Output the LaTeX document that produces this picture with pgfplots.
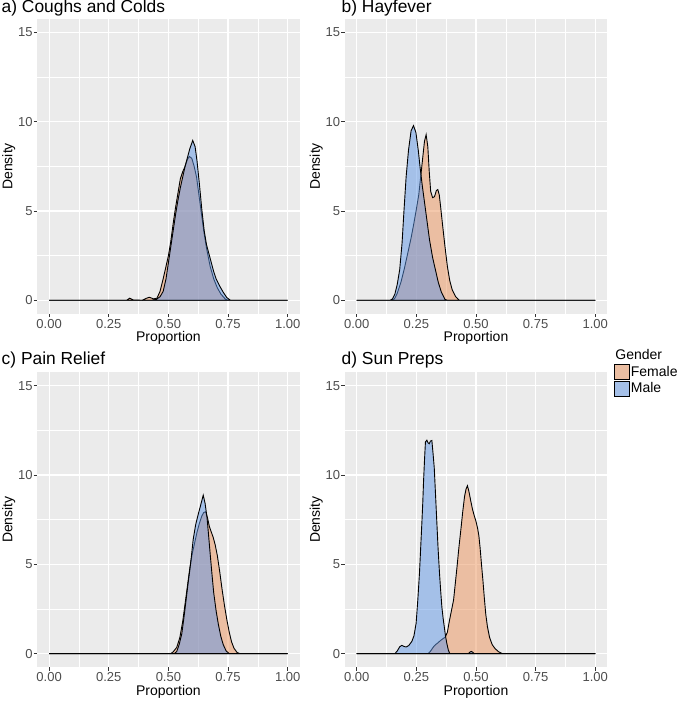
\documentclass[border=0pt]{standalone}
\usepackage{fontspec}
\setmainfont{Liberation Sans}
\usepackage{pgfplots}
\pgfplotsset{compat=1.18}
\definecolor{panelbg}{RGB}{235,235,235}
\definecolor{tickgrey}{RGB}{77,77,77}
\definecolor{tickmark}{RGB}{51,51,51}
\definecolor{femfill}{RGB}{235,146,90}
\definecolor{malefill}{RGB}{95,150,230}
\definecolor{femkey}{RGB}{235,190,162}
\definecolor{malekey}{RGB}{165,192,232}

\pgfplotsset{
  dens/.style={
    scale only axis, width=262.4pt, height=294.7pt,
    xmin=-0.05, xmax=1.05, ymin=-0.75, ymax=15.75,
    axis background/.style={fill=panelbg},
    axis line style={draw=none},
    xtick={0,0.25,0.5,0.75,1}, xticklabels={0.00,0.25,0.50,0.75,1.00},
    ytick={0,5,10,15}, yticklabels={0,5,10,15},
    minor xtick={0.125,0.375,0.625,0.875}, minor ytick={2.5,7.5,12.5},
    xmajorgrids, ymajorgrids, xminorgrids, yminorgrids,
    major grid style={white, line width=1.1pt},
    minor grid style={white, line width=0.55pt},
    tick align=outside, xtick pos=bottom, ytick pos=left,
    major tick length=3.5pt, minor tick length=0pt,
    tick style={tickmark, line width=0.8pt},
    tick label style={font=\fontsize{13}{15}\selectfont, text=tickgrey},
    xticklabel style={inner sep=1pt, yshift=-1pt},
    yticklabel style={inner sep=1pt},
    label style={font=\fontsize{14}{16}\selectfont},
    xlabel={Proportion},
    xlabel style={at={(axis description cs:0.5,0)}, anchor=center, yshift=-24.5pt},
    ylabel={Density},
    ylabel style={at={(axis description cs:0,0.5)}, anchor=center, yshift=28.5pt},
  },
  fem/.style={draw=black, line width=0.9pt, fill=femfill, fill opacity=0.5, draw opacity=1},
  mal/.style={draw=black, line width=0.9pt, fill=malefill, fill opacity=0.5, draw opacity=1},
}

\begin{document}
\begin{tikzpicture}
\path[use as bounding box] (0,0) rectangle (680pt,701pt);

%% a) Coughs and Colds
\begin{axis}[dens, at={(37.2pt,387.3pt)}, anchor=south west]
\addplot[fem] coordinates {(0,0) (0.325,0) (0.338,0.12) (0.352,0.02) (0.39,0) (0.405,0.1) (0.42,0.17) (0.438,0.08) (0.452,0.12)
 (0.465,0.5) (0.478,1.2) (0.49,1.9) (0.50,2.5) (0.51,3.3) (0.52,4.3) (0.53,5.2) (0.54,6.0) (0.55,6.8) (0.56,7.2)
 (0.57,7.5) (0.58,7.9) (0.588,8.05) (0.598,7.95) (0.608,7.5) (0.618,6.9) (0.628,5.9) (0.638,4.9) (0.648,3.9)
 (0.66,2.9) (0.675,1.9) (0.69,1.2) (0.705,0.7) (0.72,0.35) (0.738,0.08) (0.75,0) (1,0)} \closedcycle;
\addplot[mal] coordinates {(0,0) (0.43,0) (0.45,0.06) (0.465,0.2) (0.478,0.5) (0.49,1.2) (0.50,2.1) (0.51,3.0) (0.52,3.9)
 (0.53,4.8) (0.54,5.6) (0.55,6.3) (0.56,6.9) (0.57,7.5) (0.58,8.0) (0.59,8.5) (0.602,8.95) (0.612,8.6)
 (0.62,7.8) (0.63,6.5) (0.64,5.1) (0.65,3.9) (0.66,3.1) (0.67,2.6) (0.68,2.1) (0.69,1.6) (0.70,1.2)
 (0.715,0.8) (0.73,0.45) (0.745,0.15) (0.76,0) (1,0)} \closedcycle;
\end{axis}

%% b) Hayfever
\begin{axis}[dens, at={(344.8pt,387.3pt)}, anchor=south west]
\addplot[fem] coordinates {(0,0) (0.15,0) (0.16,0.12) (0.17,0.4) (0.185,1.0) (0.2,1.8) (0.215,2.7) (0.228,3.5) (0.238,4.2)
 (0.25,5.1) (0.26,5.9) (0.268,6.9) (0.276,7.9) (0.284,8.9) (0.291,9.27) (0.298,8.6) (0.304,7.2) (0.31,6.1)
 (0.318,5.75) (0.326,5.8) (0.334,6.15) (0.34,6.2) (0.346,5.9) (0.352,5.2) (0.36,4.2) (0.37,3.0) (0.38,1.9)
 (0.39,1.1) (0.40,0.6) (0.415,0.2) (0.43,0) (1,0)} \closedcycle;
\addplot[mal] coordinates {(0,0) (0.14,0) (0.15,0.08) (0.16,0.35) (0.17,0.9) (0.18,1.7) (0.19,3.2) (0.198,5.0) (0.207,6.9)
 (0.217,8.4) (0.228,9.5) (0.238,9.78) (0.248,9.4) (0.258,8.4) (0.266,7.4) (0.275,6.4) (0.285,5.4)
 (0.295,4.4) (0.305,3.4) (0.318,2.4) (0.33,1.7) (0.342,1.0) (0.355,0.45) (0.37,0.05) (0.38,0) (1,0)} \closedcycle;
\end{axis}

%% c) Pain Relief
\begin{axis}[dens, at={(37.2pt,34pt)}, anchor=south west]
\addplot[fem] coordinates {(0,0) (0.51,0) (0.52,0.1) (0.535,0.35) (0.548,0.9) (0.56,1.8) (0.57,2.8) (0.58,3.8) (0.59,4.8)
 (0.6,5.6) (0.61,6.2) (0.62,6.8) (0.63,7.3) (0.64,7.7) (0.648,7.9) (0.656,7.94) (0.664,7.6) (0.672,7.1)
 (0.68,6.8) (0.688,6.5) (0.696,6.1) (0.705,5.5) (0.715,4.6) (0.725,3.6) (0.735,2.7) (0.745,1.9)
 (0.755,1.2) (0.765,0.65) (0.775,0.3) (0.788,0.06) (0.80,0) (1,0)} \closedcycle;
\addplot[mal] coordinates {(0,0) (0.525,0) (0.535,0.12) (0.545,0.5) (0.556,1.1) (0.565,2.0) (0.575,3.1) (0.584,4.1)
 (0.59,4.7) (0.596,5.4) (0.604,6.4) (0.614,7.2) (0.625,7.8) (0.635,8.3) (0.646,8.87) (0.654,8.4) (0.662,7.6)
 (0.668,6.7) (0.675,5.6) (0.683,4.4) (0.69,3.4) (0.7,2.4) (0.71,1.6) (0.72,0.95) (0.73,0.5) (0.742,0.15)
 (0.755,0) (1,0)} \closedcycle;
\end{axis}

%% d) Sun Preps
\begin{axis}[dens, at={(344.8pt,34pt)}, anchor=south west,
  legend style={at={(1.027,1.085)}, anchor=north west, draw=none, fill=white,
    font=\fontsize{14}{16}\selectfont, inner sep=0pt, row sep=0.8pt, cells={anchor=west}},
  legend cell align=left,
  legend image code/.code={\draw[#1, fill opacity=1, line width=0.9pt] (0pt,-7.5pt) rectangle (15pt,7.5pt);},
]
\addlegendimage{empty legend}
\addlegendentry{\hspace{-17pt}Gender}
\addlegendimage{draw=black, fill=femkey}
\addlegendentry{\hspace{-1.5pt}Female}
\addlegendimage{draw=black, fill=malekey}
\addlegendentry{\hspace{-1.5pt}Male}
\addplot[fem, forget plot] coordinates {(0,0) (0.3,0) (0.31,0.15) (0.32,0.35) (0.33,0.5) (0.34,0.6) (0.35,0.72) (0.36,0.82)
 (0.371,0.92) (0.38,1.2) (0.388,1.8) (0.397,2.4) (0.406,3.0) (0.413,3.9) (0.42,4.8) (0.428,5.9) (0.437,7.0)
 (0.444,7.9) (0.452,8.8) (0.458,9.2) (0.464,9.4) (0.47,9.1) (0.478,8.55) (0.485,8.1) (0.492,7.75)
 (0.5,7.4) (0.507,7.0) (0.512,6.6) (0.517,5.95) (0.523,5.0) (0.529,4.1) (0.535,3.1) (0.541,2.2)
 (0.548,1.5) (0.557,0.9) (0.568,0.5) (0.58,0.28) (0.595,0.1) (0.61,0) (1,0)} \closedcycle;
\addplot[mal, forget plot] coordinates {(0,0) (0.16,0) (0.17,0.15) (0.18,0.38) (0.189,0.46) (0.198,0.4) (0.207,0.37) (0.218,0.45)
 (0.231,0.68) (0.24,1.0) (0.249,1.7) (0.256,3.0) (0.263,4.5) (0.268,5.9) (0.273,7.3) (0.277,8.5) (0.28,9.6)
 (0.284,10.8) (0.288,11.85) (0.294,11.95) (0.299,11.8) (0.304,11.75) (0.309,11.9) (0.315,11.93) (0.32,11.2)
 (0.325,10.4) (0.33,9.0) (0.336,7.3) (0.341,5.9) (0.347,4.5) (0.352,3.5) (0.357,2.6) (0.362,2.0)
 (0.367,1.5) (0.372,1.0) (0.378,0.55) (0.384,0.2) (0.39,0) (0.468,0) (0.474,0.08) (0.48,0.12) (0.486,0.08)
 (0.492,0) (1,0)} \closedcycle;
\end{axis}

%% panel titles
\node[anchor=base west, inner sep=0pt, font=\fontsize{17.4}{19}\selectfont] at (1.5pt,688pt) {a) Coughs and Colds};
\node[anchor=base west, inner sep=0pt, font=\fontsize{17.4}{19}\selectfont] at (341.5pt,688pt) {b) Hayfever};
\node[anchor=base west, inner sep=0pt, font=\fontsize{17.4}{19}\selectfont] at (1.5pt,336pt) {c) Pain Relief};
\node[anchor=base west, inner sep=0pt, font=\fontsize{17.4}{19}\selectfont] at (341.5pt,336pt) {d) Sun Preps};
\end{tikzpicture}
\end{document}
